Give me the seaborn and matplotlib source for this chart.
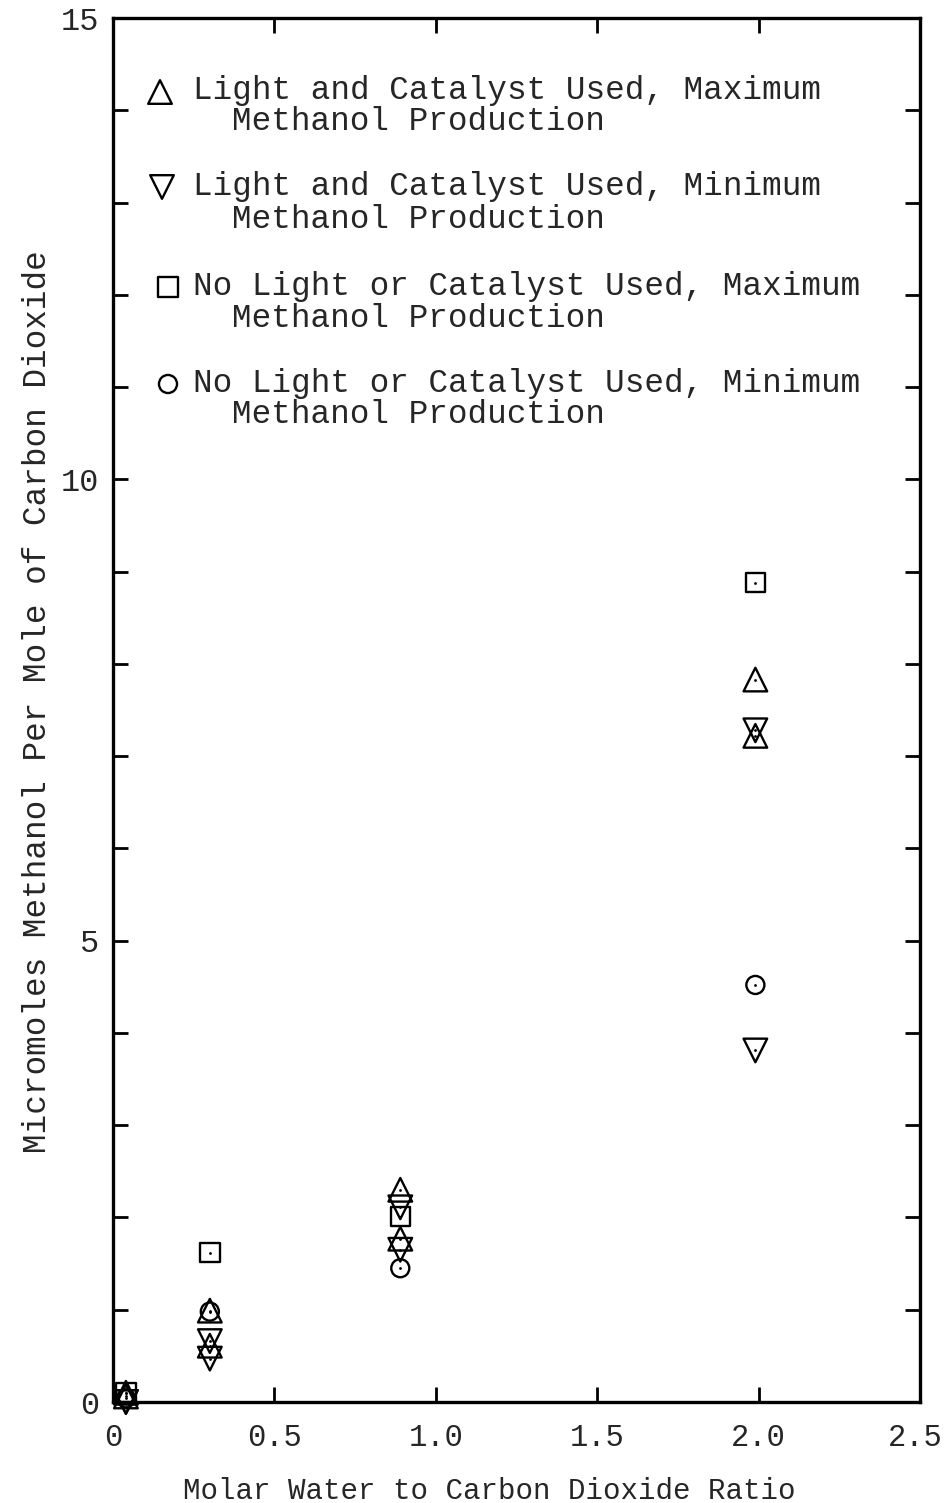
import matplotlib
matplotlib.use("Agg")
import matplotlib.pyplot as plt
import matplotlib.transforms as mtransforms
import numpy as np
import pandas as pd
import seaborn as sns
from matplotlib.ticker import MultipleLocator

# Molar H2O : CO2 ratios at which methanol yield was measured
ratio = [0.04, 0.30, 0.89, 1.99]

# Micromoles methanol per mole CO2
light_max_run1 = [0.10, 0.99, 2.30, 7.83]
light_max_run2 = [0.06, 0.61, 1.77, 7.22]
light_min_run1 = [0.00, 0.66, 2.11, 7.28]
light_min_run2 = [0.00, 0.47, 1.65, 3.81]
dark_max = [0.10, 1.62, 2.01, 8.88]
dark_min = [0.04, 0.98, 1.45, 4.52]

series_labels = [
    ("Light and Catalyst Used, Maximum", "Methanol Production"),
    ("Light and Catalyst Used, Minimum", "Methanol Production"),
    ("No Light or Catalyst Used, Maximum", "Methanol Production"),
    ("No Light or Catalyst Used, Minimum", "Methanol Production"),
]

x_ticks = [0, 0.5, 1.0, 1.5, 2.0, 2.5]
x_tick_labels = ["0", "0.5", "1.0", "1.5", "2.0", "2.5"]
y_ticks = [0, 5, 10, 15]
y_tick_labels = ["0", "5", "10", "15"]

frames = []
for key, vals in [("light_max", light_max_run1), ("light_max", light_max_run2),
                  ("light_min", light_min_run1), ("light_min", light_min_run2),
                  ("dark_max", dark_max), ("dark_min", dark_min)]:
    frames.append(pd.DataFrame({"ratio": ratio, "yield": vals, "series": key}))
df = pd.concat(frames, ignore_index=True)

sns.set_theme(style="ticks")
mono = ["Liberation Mono", "DejaVu Sans Mono"]
plt.rcParams["font.family"] = mono

fig = plt.figure(figsize=(9.45, 15.03), dpi=100)
ax = fig.add_axes([113 / 945, 1 - 1402 / 1503, 807 / 945, 1384 / 1503])

styles = {
    "light_max": dict(marker="^", s=17 ** 2),
    "light_min": dict(marker="v", s=17 ** 2),
    "dark_max": dict(marker="s", s=14 ** 2),
    "dark_min": dict(marker="o", s=13 ** 2),
}
for key, st in styles.items():
    sub = df[df["series"] == key]
    sns.scatterplot(data=sub, x="ratio", y="yield", ax=ax, marker=st["marker"],
                    s=st["s"], facecolor="none", edgecolor="black",
                    linewidth=1.7, clip_on=False, zorder=3, legend=False)
# small centre dot inside every symbol
sns.scatterplot(data=df, x="ratio", y="yield", ax=ax, marker="o", s=4,
                color="black", linewidth=0, clip_on=False, zorder=4, legend=False)

ax.set_xlim(0, 2.5)
ax.set_ylim(0, 15)
ax.set_xticks(x_ticks, x_tick_labels)
ax.set_yticks(y_ticks, y_tick_labels)
ax.yaxis.set_minor_locator(MultipleLocator(1))
ax.tick_params(which="both", direction="in", top=True, right=True,
               length=10.8, width=2.0, color="black")
ax.tick_params(axis="x", which="major", labelsize=22, pad=15)
ax.tick_params(axis="y", which="major", labelsize=23, pad=10)
for sp in ax.spines.values():
    sp.set_linewidth(2.4)
    sp.set_color("black")

# keep the rightmost x label inside the canvas
last = ax.get_xticklabels()[-1]
last.set_transform(last.get_transform() +
                   mtransforms.ScaledTranslation(-5 / 100, 0, fig.dpi_scale_trans))

ax.set_xlabel("Molar Water to Carbon Dioxide Ratio", fontsize=21)
ax.set_ylabel("Micromoles Methanol Per Mole of Carbon Dioxide", fontsize=23.5)
ax.xaxis.set_label_coords(0.466, -0.054)
ax.yaxis.set_label_coords(-0.074, 0.506)

# key in the upper-left corner
def ax_x(px):
    return (px - 113) / 807

def ax_y(py):
    return (1402 - py) / 1384

key_markers = [("^", 160, 92, 17), ("v", 162, 187, 17), ("s", 168, 287, 14), ("o", 168, 384, 13)]
baselines = [(99, 130), (195, 228), (295, 327), (392, 423)]
for (mk, mx, my, ms), (b1, b2), (l1, l2) in zip(key_markers, baselines, series_labels):
    ax.scatter([ax_x(mx)], [ax_y(my)], marker=mk, s=ms ** 2, facecolor="none",
               edgecolor="black", linewidth=1.7, transform=ax.transAxes, clip_on=False)
    ax.text(ax_x(193), ax_y(b1), l1, transform=ax.transAxes, fontsize=23.5,
            va="baseline", ha="left")
    ax.text(ax_x(232), ax_y(b2), l2, transform=ax.transAxes, fontsize=23.5,
            va="baseline", ha="left")

fig.savefig("out.png", dpi=100, facecolor="white")
